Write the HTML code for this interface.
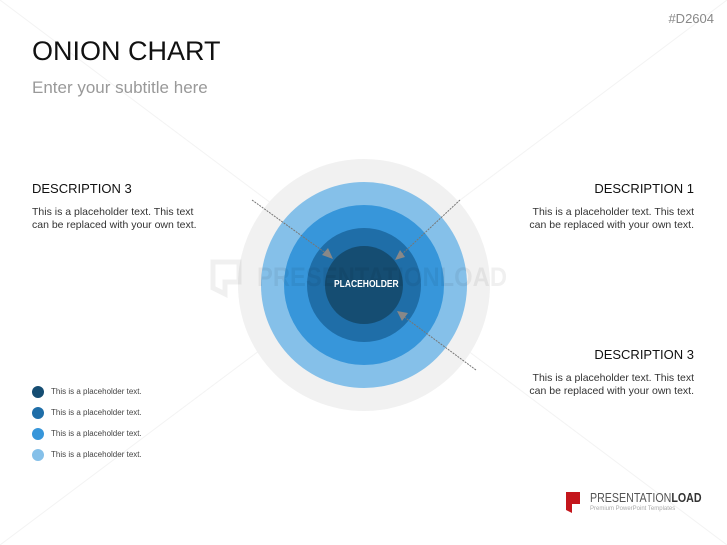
<!DOCTYPE html>
<html><head><meta charset="utf-8"><style>
body{margin:0;width:727px;height:545px;background:#fff;position:relative;overflow:hidden;font-family:"Liberation Sans",sans-serif}
.t{position:absolute;white-space:nowrap}
</style></head><body>
<svg width="727" height="545" style="position:absolute;left:0;top:0">
<line x1="0" y1="0" x2="727" y2="545" stroke="#f3f3f3" stroke-width="1"/>
<line x1="727" y1="0" x2="0" y2="545" stroke="#f3f3f3" stroke-width="1"/>
<circle cx="364" cy="285" r="126" fill="#f1f1f1"/>
<circle cx="364" cy="285" r="103" fill="#85c0e9"/>
<circle cx="364" cy="285" r="80" fill="#3796da"/>
<circle cx="364" cy="285" r="57" fill="#1f6ea8"/>
<circle cx="364" cy="285" r="39" fill="#154d72"/>
<path d="M213 262h26v20h-14v12l-12-6z" fill="none" stroke="#000" stroke-opacity="0.06" stroke-width="5"/>
<text x="257" y="286" font-family="Liberation Sans" font-weight="bold" font-size="27" fill="#000" fill-opacity="0.06" textLength="250" lengthAdjust="spacingAndGlyphs">PRESENTATIONLOAD</text>
<g stroke="#777" stroke-width="1" stroke-dasharray="2,1">
<line x1="252" y1="200" x2="327" y2="254"/>
<line x1="460" y1="200" x2="400" y2="256"/>
<line x1="476" y1="370" x2="403" y2="316"/>
</g>
<g fill="#888">
<polygon points="333,259 322,255 328,248"/>
<polygon points="395,260 400,250 405,257"/>
<polygon points="397,311 408,313 402,321"/>
</g>
<circle cx="38" cy="392" r="6" fill="#154d72"/>
<circle cx="38" cy="413" r="6" fill="#1f6ea8"/>
<circle cx="38" cy="434" r="6" fill="#3796da"/>
<circle cx="38" cy="455" r="6" fill="#85c0e9"/>
<path d="M566 492h14v12h-8v9l-6-3z" fill="#c4161c"/>
</svg>
<div class="t" style="right:13px;top:11px;font-size:13px;color:#888">#D2604</div>
<div class="t" style="left:32px;top:36px;font-size:27px;color:#111">ONION CHART</div>
<div class="t" style="left:32px;top:78px;font-size:17px;color:#999">Enter your subtitle here</div>
<div class="t" style="left:32px;top:181px;font-size:13px;color:#111">DESCRIPTION 3</div>
<div class="t" style="left:32px;top:206px;font-size:10.5px;color:#333;line-height:13px">This is a placeholder text. This text<br>can be replaced with your own text.</div>
<div class="t" style="right:33px;top:181px;font-size:13px;color:#111">DESCRIPTION 1</div>
<div class="t" style="right:33px;top:206px;font-size:10.5px;color:#333;line-height:13px;text-align:right">This is a placeholder text. This text<br>can be replaced with your own text.</div>
<div class="t" style="right:33px;top:347px;font-size:13px;color:#111">DESCRIPTION 3</div>
<div class="t" style="right:33px;top:372px;font-size:10.5px;color:#333;line-height:13px;text-align:right">This is a placeholder text. This text<br>can be replaced with your own text.</div>
<div class="t" style="left:334px;top:279px;font-size:10px;font-weight:bold;color:#fff;transform:scaleX(0.85);transform-origin:left">PLACEHOLDER</div>
<div class="t" style="left:51px;top:387px;font-size:8px;color:#444">This is a placeholder text.</div>
<div class="t" style="left:51px;top:408px;font-size:8px;color:#444">This is a placeholder text.</div>
<div class="t" style="left:51px;top:429px;font-size:8px;color:#444">This is a placeholder text.</div>
<div class="t" style="left:51px;top:450px;font-size:8px;color:#444">This is a placeholder text.</div>
<div class="t" style="left:590px;top:490px;font-size:13px;color:#555;transform:scaleX(0.82);transform-origin:left">PRESENTATION<b style="color:#333">LOAD</b></div>
<div class="t" style="left:590px;top:506px;font-size:6px;color:#aaa">Premium PowerPoint Templates</div>
</body></html>
